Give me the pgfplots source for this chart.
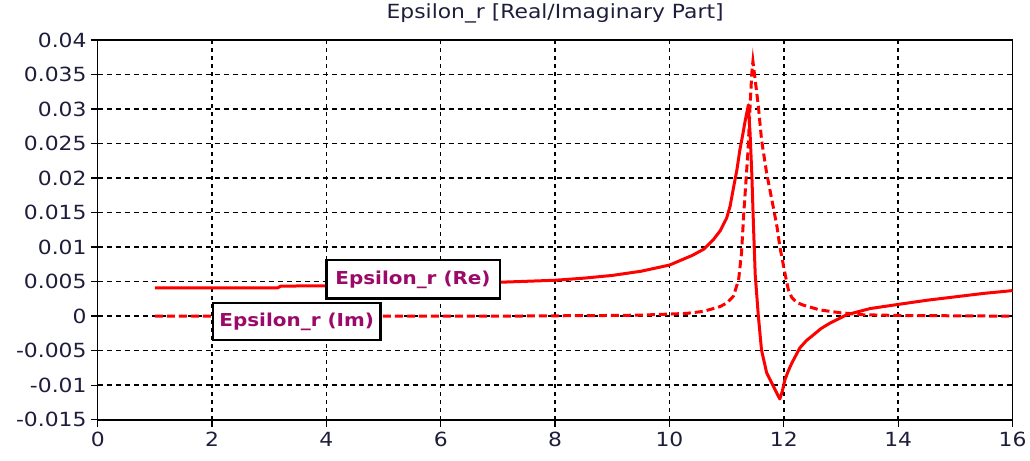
\documentclass[border=0pt]{standalone}
\usepackage{fontspec}
\setmainfont[FakeStretch=1.12]{DejaVu Sans}
\usepackage{pgfplots}
\pgfplotsset{compat=1.18}
\definecolor{txt}{RGB}{30,30,60}
\definecolor{lab}{RGB}{155,10,105}
\begin{document}
\begin{tikzpicture}
\useasboundingbox (-97.7pt,-41pt) rectangle (932.3pt,419.7pt);
\begin{axis}[
  at={(0,0)}, anchor=south west,
  scale only axis, width=914.8pt, height=379.7pt,
  xmin=0, xmax=16, ymin=-0.015, ymax=0.04,
  scaled y ticks=false, scaled x ticks=false,
  xtick={0,2,4,6,8,10,12,14,16},
  xticklabels={0,2,4,6,8,10,12,14,16},
  ytick={-0.015,-0.01,-0.005,0,0.005,0.01,0.015,0.02,0.025,0.03,0.035,0.04},
  yticklabels={-0.015,-0.01,-0.005,0,0.005,0.01,0.015,0.02,0.025,0.03,0.035,0.04},
  xtick pos=left, ytick pos=left,
  tick align=outside, major tick length=7pt,
  tick style={black, line width=1.3pt},
  axis line style={black, line width=1.6pt},
  grid=major,
  x grid style={black, line width=1.4pt, dash pattern=on 4pt off 4pt},
  y grid style={black, line width=1.4pt, dash pattern=on 5pt off 4pt},
  ticklabel style={font=\fontsize{19.5}{22}\selectfont, text=txt},
  yticklabel style={anchor=east, inner sep=0pt, xshift=-4pt},
  xticklabel style={anchor=north, inner sep=0pt, yshift=-5pt},
  title={Epsilon\_r [Real/Imaginary Part]},
  title style={font=\fontsize{19.5}{22}\selectfont, text=txt, at={(0.5,1)}, anchor=base, inner sep=0pt, yshift=16pt},
]
\addplot[red, line width=3pt, line join=round] coordinates {
(1,0.0041) (3.15,0.0041) (3.2,0.00435) (4,0.0044) (5,0.0045) (6,0.0047) (7,0.0049)
(8,0.0052) (8.5,0.0055) (9,0.0059) (9.5,0.0065) (10,0.0074) (10.2,0.0081) (10.4,0.0088)
(10.6,0.0097) (10.77,0.0111) (10.89,0.0124) (11.0,0.0142) (11.06,0.0159) (11.12,0.0186)
(11.18,0.0212) (11.23,0.0240) (11.28,0.0262) (11.32,0.0281) (11.38,0.0306) (11.41,0.0265)
(11.44,0.0207) (11.47,0.0130) (11.50,0.0060) (11.555,0.0) (11.61,-0.0049) (11.70,-0.0082)
(11.82,-0.0102) (11.93,-0.0120) (11.97,-0.0110) (12.02,-0.0092) (12.08,-0.0079) (12.14,-0.0068)
(12.28,-0.0046) (12.40,-0.0035) (12.52,-0.0027) (12.65,-0.0018) (12.81,-0.0010) (13.10,0.0002)
(13.51,0.0011) (14,0.0017) (14.5,0.0023) (15,0.0028) (15.5,0.0033) (16,0.0037)
};
\addplot[red, line width=3pt, dash pattern=on 8pt off 4pt] coordinates {
(1,0) (7,0) (8,0.00005) (9,0.0001) (9.5,0.00015) (10,0.0003) (10.3,0.0004) (10.6,0.0007)
(10.89,0.0014) (11.0,0.0019) (11.12,0.0029) (11.21,0.0053) (11.26,0.0091) (11.30,0.0149)
(11.34,0.0198) (11.375,0.0241) (11.41,0.0304) (11.44,0.0352) (11.46,0.0369) (11.50,0.0342)
(11.555,0.0304) (11.61,0.0256) (11.70,0.0207) (11.79,0.0169) (11.88,0.0130) (11.93,0.0101)
(12.02,0.0062) (12.08,0.0038) (12.14,0.0027) (12.22,0.0020) (12.34,0.0016) (12.63,0.0009)
(12.98,0.0005) (13.39,0.0002) (14,0.0001) (16,0.0)
};
\node[draw=black, line width=2.5pt, fill=white, minimum width=173.5pt, minimum height=38.5pt,
  inner sep=0pt, text=lab, font=\bfseries\fontsize{17.8}{20}\selectfont]
  at (axis cs:5.515,0.00532) {Epsilon\_r (Re)};
\node[draw=black, line width=2.5pt, fill=white, minimum width=167.5pt, minimum height=37pt,
  inner sep=0pt, text=lab, font=\bfseries\fontsize{17.8}{20}\selectfont]
  at (axis cs:3.481,-0.0008) {Epsilon\_r (Im)};
\end{axis}
\end{tikzpicture}
\end{document}
